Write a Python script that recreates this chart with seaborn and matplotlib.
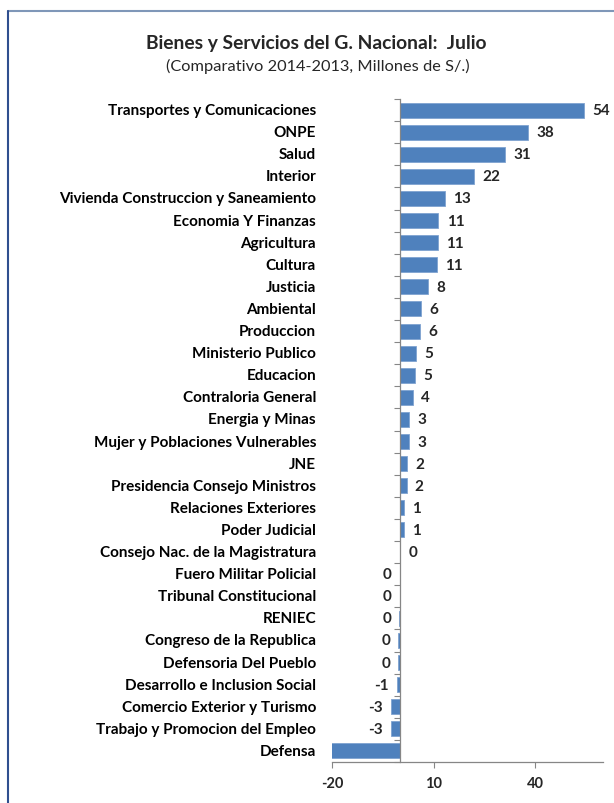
import numpy as np
import matplotlib
matplotlib.use("Agg")
import matplotlib.pyplot as plt
import matplotlib.transforms as mtransforms
from matplotlib.lines import Line2D
import seaborn as sns

# ── Data ────────────────────────────────────────────────────────────
sectores = [
    "Transportes y Comunicaciones", "ONPE", "Salud", "Interior",
    "Vivienda Construccion y Saneamiento", "Economia Y Finanzas",
    "Agricultura", "Cultura", "Justicia", "Ambiental", "Produccion",
    "Ministerio Publico", "Educacion", "Contraloria General",
    "Energia y Minas", "Mujer y Poblaciones Vulnerables", "JNE",
    "Presidencia Consejo Ministros", "Relaciones Exteriores",
    "Poder Judicial", "Consejo Nac. de la Magistratura",
    "Fuero Militar Policial", "Tribunal Constitucional", "RENIEC",
    "Congreso de la Republica", "Defensoria Del Pueblo",
    "Desarrollo e Inclusion Social", "Comercio Exterior y Turismo",
    "Trabajo y Promocion del Empleo", "Defensa",
]
variacion = [
    54.3, 37.8, 31.2, 22.0, 13.4, 11.4, 11.2, 11.0, 8.3, 6.2, 5.9,
    4.8, 4.6, 3.9, 2.7, 2.7, 2.1, 2.0, 1.3, 1.2, 0.05,
    -0.02, -0.03, -0.1, -0.4, -0.4, -0.8, -2.7, -2.7, -20.2,
]
mostrar_etiqueta = [True] * 29 + [False]   # Excel hides the Defensa label
x_ticks = [-20, 10, 40]

# ── Figure ──────────────────────────────────────────────────────────
sns.set_style("white")
plt.rcParams["font.family"] = ["Lato", "DejaVu Sans"]

fig = plt.figure(figsize=(6.14, 8.04), dpi=100)
ax = fig.add_axes([332 / 614, 1 - 763 / 804, 271 / 614, 663 / 804])

sns.barplot(x=variacion, y=sectores, orient="h", color="#4F81BD",
            saturation=1, width=0.68, edgecolor="#7FA3D0", linewidth=0.6,
            ax=ax)

ax.set_xlim(-20, 60)
ax.set_ylim(len(sectores) - 0.5, -0.5)
ax.set_xticks(x_ticks)
ax.set_xticklabels([str(t) for t in x_ticks], fontsize=10.5, fontweight="bold")
ax.tick_params(axis="x", length=4, width=0.8, color="#868686", pad=6,
               bottom=True)

# category axis crosses at zero, labels kept at the low side
for s in ["top", "right"]:
    ax.spines[s].set_visible(False)
ax.spines["left"].set_position(("data", 0))
for s in ["left", "bottom"]:
    ax.spines[s].set_color("#868686")
    ax.spines[s].set_linewidth(0.9)
ax.set_yticks(np.arange(len(sectores)))
ax.set_yticklabels([])
ax.tick_params(axis="y", which="major", length=0)
ax.set_yticks(np.arange(len(sectores) + 1) - 0.5, minor=True)
ax.tick_params(axis="y", which="minor", left=True, length=4, width=0.8,
               color="#868686")

trans = mtransforms.blended_transform_factory(ax.transAxes, ax.transData)
for i, nombre in enumerate(sectores):
    ax.text(-0.059, i, nombre, transform=trans, ha="right", va="center",
            fontsize=11, fontweight="bold", color="black")

etiquetas = [f"{int(round(v))}" if m else "" for v, m in
             zip(variacion, mostrar_etiqueta)]
ax.bar_label(ax.containers[0], labels=etiquetas, padding=6,
             fontsize=11, fontweight="bold")

ax.set_xlabel("")
ax.set_ylabel("")

fig.text(316 / 614, 1 - 43 / 804, "Bienes y Servicios del G. Nacional:  Julio",
         ha="center", va="center", fontsize=13.9, fontweight="bold")
fig.text(318 / 614, 1 - 66 / 804, "(Comparativo 2014-2013, Millones de S/.)",
         ha="center", va="center", fontsize=11.8)

# chart frame (top and left edges of the Excel chart area)
fig.add_artist(Line2D([8 / 614, 1], [1 - 11.5 / 804, 1 - 11.5 / 804],
                      transform=fig.transFigure, color="#7F97B8", lw=1.5))
fig.add_artist(Line2D([8 / 614, 8 / 614], [0, 1 - 11.5 / 804],
                      transform=fig.transFigure, color="#2F4F8F", lw=1.5))

fig.savefig("out.png", dpi=100)
